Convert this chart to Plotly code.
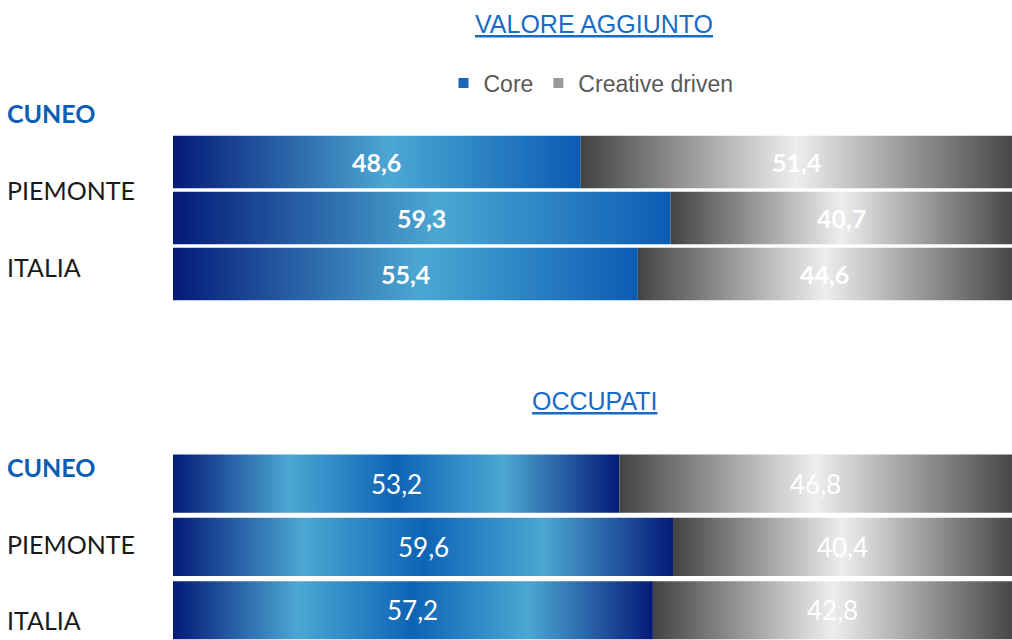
import plotly.graph_objects as go

regions = ["CUNEO", "PIEMONTE", "ITALIA"]
va_core = [48.6, 59.3, 55.4]
va_creative = [51.4, 40.7, 44.6]
occ_core = [53.2, 59.6, 57.2]
occ_creative = [46.8, 40.4, 42.8]
titles = ["VALORE AGGIUNTO", "OCCUPATI"]
series_names = ["Core", "Creative driven"]

W, H = 1012, 640
L = 173

core_top_scale = [[0, "#041a78"], [0.53, "#4ca7d3"], [1, "#0a5cb3"]]
core_bot_scale = [[0, "#041a78"], [0.26, "#4ca7d3"], [0.5, "#0e63b5"],
                  [0.74, "#4ca7d3"], [1, "#041a78"]]
gray_scale = [[0, "#434343"], [0.5, "#eeeeee"], [1, "#474747"]]

fig = go.Figure()

def fmt(v):
    return f"{v:.1f}".replace(".", ",")

def add_block(core, creative, xa, ya, core_scale, hw, font_w, font_size):
    for i in range(len(core)):
        segs = [(0, core[i], core_scale), (core[i], core[i] + creative[i], gray_scale)]
        for (a, b, cs) in segs:
            fig.add_trace(go.Scatter(
                x=[a, b, b, a, a], y=[i - hw, i - hw, i + hw, i + hw, i - hw],
                mode="lines", fill="toself", line=dict(width=0),
                fillgradient=dict(type="horizontal", colorscale=cs),
                xaxis=xa, yaxis=ya, showlegend=False, hoverinfo="skip"))
        for (a, b) in [(0, core[i]), (core[i], core[i] + creative[i])]:
            fig.add_annotation(x=(a + b) / 2, y=i, xref=xa, yref=ya,
                               text=fmt(b - a), showarrow=False,
                               font=dict(family="Lato", size=font_size, color="white",
                                         weight=font_w))

add_block(va_core, va_creative, "x", "y", core_top_scale, 0.47, "bold", 25)
add_block(occ_core, occ_creative, "x2", "y2", core_bot_scale, 0.46, "normal", 26)

# legend traces
fig.add_trace(go.Scatter(x=[None], y=[None], mode="markers", name=series_names[0],
                         marker=dict(symbol="square", size=10, color="#1a66b8"),
                         xaxis="x", yaxis="y"))
fig.add_trace(go.Scatter(x=[None], y=[None], mode="markers", name=series_names[1],
                         marker=dict(symbol="square", size=10, color="#9a9a9a"),
                         xaxis="x", yaxis="y"))

ax = dict(range=[0, 100], showgrid=False, zeroline=False, showticklabels=False,
          showline=False, fixedrange=True)
fig.update_layout(
    width=W, height=H, margin=dict(l=L, r=0, t=0, b=0),
    paper_bgcolor="white", plot_bgcolor="white",
    xaxis=dict(ax, domain=[0, 1], anchor="y"),
    xaxis2=dict(ax, domain=[0, 1], anchor="y2"),
    yaxis=dict(domain=[1 - 302 / H, 1 - 134 / H], range=[2.5, -0.5], visible=False),
    yaxis2=dict(domain=[0, 1 - 452 / H], range=[2.47, -0.5], visible=False),
    showlegend=True,
    legend=dict(orientation="h", x=(591 - L) / (W - L), xanchor="center",
                y=1 - 83 / H, yanchor="middle", yref="paper",
                font=dict(family="Liberation Sans", size=23, color="#595959"),
                itemwidth=30, tracegroupgap=0, bgcolor="rgba(0,0,0,0)"),
)

pw = W - L
for t, yc in zip(titles, [24, 401]):
    fig.add_annotation(text=f"<u>{t}</u>", x=(594 - L) / pw, y=1 - yc / H,
                       xref="paper", yref="paper", showarrow=False,
                       xanchor="center", yanchor="middle",
                       font=dict(family="Liberation Sans", size=25, color="#1a6bc4"))

label_y = [[113, 190, 267], [467, 544, 620]]
for block in label_y:
    for name, yc in zip(regions, block):
        is_c = name == "CUNEO"
        fig.add_annotation(text=name, x=(5 - L) / pw, y=1 - yc / H,
                           xref="paper", yref="paper", showarrow=False,
                           xanchor="left", yanchor="middle",
                           font=dict(family="Lato", size=25,
                                     color="#0a5fb5" if is_c else "#1a1a1a",
                                     weight="bold" if is_c else "normal"))

fig.write_html("out.html", config={"displayModeBar": False},
               post_script="document.body.style.margin='0';document.body.style.overflow='hidden';")
